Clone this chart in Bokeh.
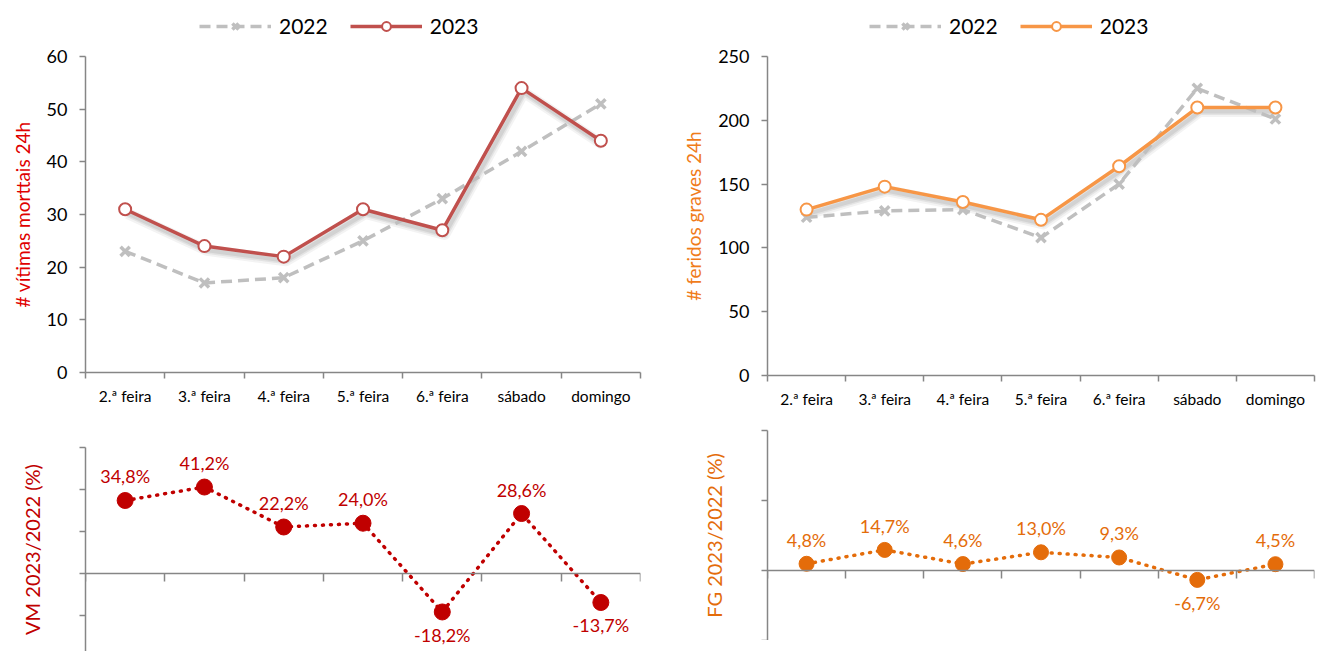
from bokeh.plotting import figure
from bokeh.layouts import row, column
from bokeh.models import (ColumnDataSource, FixedTicker, Legend, LegendItem,
                          Range1d, LabelSet)
from bokeh.core.properties import value
from bokeh.transform import dodge
from bokeh.embed import file_html
from bokeh.resources import INLINE

# ---------------- data ----------------
days = ["2.ª feira", "3.ª feira", "4.ª feira", "5.ª feira", "6.ª feira", "sábado", "domingo"]
years = ["2022", "2023"]
vm_2022 = [23, 17, 18, 25, 33, 42, 51]
vm_2023 = [31, 24, 22, 31, 27, 54, 44]
fg_2022 = [124, 129, 130, 108, 150, 225, 201]
fg_2023 = [130, 148, 136, 122, 164, 210, 210]
vm_change = [34.8, 41.2, 22.2, 24.0, -18.2, 28.6, -13.7]
fg_change = [4.8, 14.7, 4.6, 13.0, 9.3, -6.7, 4.5]

vm_ticks = [0, 10, 20, 30, 40, 50, 60]
fg_ticks = [0, 50, 100, 150, 200, 250]
vm_pct_ticks = [-40, -20, 0, 20, 40, 60]
fg_pct_ticks = [-50, 0, 50, 100]

# ---------------- style ----------------
FONT = "Lato"
AX = "#868686"
GRAY = "#BFBFBF"
RED_LINE = "#C0504D"
RED_TITLE = "#E00000"
RED_DARK = "#C00000"
OR_LINE = "#F79646"
OR_TITLE = "#F07C1A"
OR_DARK = "#E46C0A"

xs = list(range(len(days)))
bounds = [i - 0.5 for i in range(len(days) + 1)]


def base_axes(p):
    p.grid.visible = False
    p.outline_line_color = None
    p.background_fill_color = None
    p.border_fill_color = None
    for ax in p.xaxis + p.yaxis:
        ax.axis_line_color = AX
        ax.axis_line_width = 1.5
        ax.major_tick_line_color = AX
        ax.major_tick_line_width = 1.5
        ax.major_tick_in = 0
        ax.major_tick_out = 6
        ax.minor_tick_line_color = None
        ax.major_label_text_font = FONT
        ax.major_label_text_color = "black"
        ax.axis_label_text_font = FONT
        ax.axis_label_text_font_style = "normal"


def series_glyphs(p, src, line_color):
    l22 = p.line("x", "y22", source=src, line_color=GRAY, line_width=3.5,
                 line_dash="11 6")
    m22 = p.scatter("x", "y22", source=src, marker="x", size=13,
                    line_color=GRAY, line_width=3.5)
    l23 = p.line("x", "y23", source=src, line_color=line_color, line_width=3.5)
    m23 = p.scatter("x", "y23", source=src, marker="circle", size=12,
                    line_color=line_color, line_width=2, fill_color="white")
    return l22, m22, l23, m23


def legend_fig(src, line_color, w, leg_x):
    # a strip above the chart that only holds the legend (series drawn off-range)
    lf = figure(width=w, height=40, x_range=Range1d(0, 1), y_range=Range1d(-2, -1),
                output_backend="svg", toolbar_location=None,
                x_axis_location=None, y_axis_location=None, min_border=0)
    lf.grid.visible = False
    lf.outline_line_color = None
    lf.background_fill_color = None
    lf.border_fill_color = None
    l22, m22, l23, m23 = series_glyphs(lf, src, line_color)
    legend = Legend(items=[LegendItem(label=years[0], renderers=[l22, m22]),
                           LegendItem(label=years[1], renderers=[l23, m23])],
                    orientation="horizontal", location=(leg_x, 2),
                    label_text_font=FONT, label_text_font_size="21px",
                    label_text_color="black",
                    glyph_width=72, glyph_height=22, spacing=22,
                    label_standoff=8, padding=2, margin=0,
                    border_line_color=None, background_fill_alpha=0)
    lf.add_layout(legend)
    return lf


def top_chart(v22, v23, yticks, ymax, title, title_color, line_color,
              fw, fh, mleft, mright, mtop, mbottom, shadow_dy, leg_x):
    src = ColumnDataSource(dict(x=xs, y22=v22, y23=v23))
    w = mleft + fw + mright
    p = figure(width=w, height=mtop + fh + mbottom,
               x_range=Range1d(-0.5, len(days) - 0.5), y_range=Range1d(0, ymax),
               output_backend="svg", toolbar_location=None,
               min_border_left=mleft, min_border_right=mright,
               min_border_top=mtop, min_border_bottom=mbottom)
    base_axes(p)
    # soft shadow under the 2023 line
    for lw, a in [(11, 0.07), (7, 0.10), (4, 0.12)]:
        p.line(x=dodge("x", 0.03), y=dodge("y23", shadow_dy), source=src,
               line_color="#5a5a5a", line_alpha=a, line_width=lw, line_join="round")
    series_glyphs(p, src, line_color)

    p.yaxis.ticker = FixedTicker(ticks=yticks)
    p.yaxis.major_label_text_font_size = "18px"
    p.yaxis.major_label_standoff = 12
    p.yaxis.axis_label = title
    p.yaxis.axis_label_text_color = title_color
    p.yaxis.axis_label_text_font_size = "19px"
    p.yaxis.axis_label_standoff = 10

    p.xaxis.ticker = FixedTicker(ticks=xs, minor_ticks=bounds)
    p.xaxis.major_label_overrides = {i: d for i, d in enumerate(days)}
    p.xaxis.major_tick_line_color = None
    p.xaxis.minor_tick_line_color = AX
    p.xaxis.minor_tick_line_width = 1.5
    p.xaxis.minor_tick_in = 0
    p.xaxis.minor_tick_out = 6
    p.xaxis.major_label_text_font_size = "15.5px"
    p.xaxis.major_label_standoff = 8

    return legend_fig(src, line_color, w, leg_x), p


def bottom_chart(vals, yticks, ymin, ymax, title, color, fw, fh,
                 mleft, mright, mtop, msize):
    texts = [f"{v:.1f}%".replace(".", ",") for v in vals]
    src = ColumnDataSource(dict(x=xs, y=vals, t=texts,
                                off=[13 if v >= 0 else -12 for v in vals],
                                base=["bottom" if v >= 0 else "top" for v in vals]))
    p = figure(width=mleft + fw + mright, height=mtop + fh,
               x_range=Range1d(-0.5, len(days) - 0.5), y_range=Range1d(ymin, ymax),
               output_backend="svg", toolbar_location=None,
               x_axis_location="above",
               min_border_left=mleft, min_border_right=mright,
               min_border_top=mtop, min_border_bottom=0)
    base_axes(p)
    p.line("x", "y", source=src, line_color=color, line_width=3.5,
           line_dash="1 7", line_cap="round")
    p.scatter("x", "y", source=src, marker="circle", size=msize,
              fill_color=color, line_color=color)
    labels = LabelSet(x="x", y="y", text="t", source=src, y_offset="off",
                      text_baseline="base", text_align="center",
                      text_font=value(FONT), text_font_size="18px", text_color=color)
    p.add_layout(labels)

    p.yaxis.ticker = FixedTicker(ticks=yticks)
    p.yaxis.major_label_overrides = {t: "" for t in yticks}
    p.yaxis.major_label_standoff = 0
    p.yaxis.axis_label = title
    p.yaxis.axis_label_text_color = color
    p.yaxis.axis_label_text_font_size = "20px"
    p.yaxis.axis_label_standoff = 36

    p.xaxis.fixed_location = 0
    p.xaxis.ticker = FixedTicker(ticks=bounds)
    p.xaxis.major_tick_in = 8
    p.xaxis.major_tick_out = 0
    p.xaxis.major_label_overrides = {b: "" for b in bounds}
    p.xaxis.major_label_standoff = 0
    return p


lg1, p1 = top_chart(vm_2022, vm_2023, vm_ticks, 60, "# vítimas morttais 24h", RED_TITLE,
                    RED_LINE, 555, 316, 85, 20, 16, 40, -0.8, 114)
lg3, p3 = top_chart(fg_2022, fg_2023, fg_ticks, 250, "# feridos graves 24h", OR_TITLE,
                    OR_LINE, 548, 322, 106, 12, 16, 32, -3.2, 102)
p2 = bottom_chart(vm_change, vm_pct_ticks, -37, 60, "VM 2023/2022 (%)", RED_DARK,
                  569, 204, 85, 6, 35, 16)
p4 = bottom_chart(fg_change, fg_pct_ticks, -50, 100, "FG 2023/2022 (%)", OR_DARK,
                  559, 210, 107, 0, 20, 15)

layout = row(column(lg1, p1, p2, spacing=0), column(lg3, p3, p4, spacing=0), spacing=0)
open("out.html", "w").write(file_html(layout, INLINE))
